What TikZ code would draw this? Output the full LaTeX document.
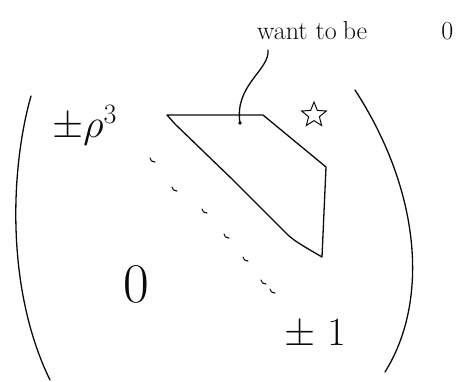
\RequirePackage{fix-cm}
\documentclass[tikz,border=0pt]{standalone}
\usepackage{amsmath,amssymb}
\usetikzlibrary{shapes.geometric, calc}
\definecolor{inkBlack}{RGB}{10, 10, 10}
\tikzset{
  ink/.style   = {draw=inkBlack, line width=1.3pt, line cap=round, line join=round},
  entry/.style = {inner sep=0pt, text=inkBlack, font=\fontsize{#1}{#1}\selectfont},
  note/.style  = {inner sep=0pt, text=inkBlack, font=\fontsize{26}{26}\selectfont},
  tick/.style  = {draw=inkBlack, line width=1.1pt, line cap=round},
}

\begin{document}
\begin{tikzpicture}[x=1pt, y=-1pt]
\useasboundingbox (0,0) rectangle (460,382);

% ---- Matrix brackets --------------------------------------------------------
\draw[ink] (31,96) .. controls (10,170) and (6,290) .. (50,380);
\draw[ink] (355,90) .. controls (420,190) and (430,300) .. (385,372);

% ---- Entries ----------------------------------------------------------------
\node[entry=40, anchor=base west] (top)  at (52,138) {$\pm\rho^3$};
\node[entry=56]                  (zero) at (136,284) {$0$};
\node[entry=40, anchor=base west] (bot) at (284,345) {$\pm\hspace{12pt}1$};

% ---- Diagonal dots ----------------------------------------------------------
\foreach \x/\y in {150/158, 172/187, 202/209, 224/234, 243/257, 261/280, 270/289}
  \draw[tick] (\x,\y) .. controls +(1,3) .. ++(5,4);

% ---- Region above the diagonal ----------------------------------------------
\draw[ink] (167,115) -- (263,115) -- (326,167) -- (322,257)
  .. controls (305,247) and (292,240) .. (285,232)
  -- (233,180) -- (175,124) -- cycle;

\node[star, star points=5, star point ratio=2.3, draw=inkBlack, line width=1pt,
      minimum size=26pt, inner sep=0pt] (starmark) at (314,115) {};

% ---- Annotation -------------------------------------------------------------
\node[note, anchor=base west] (want) at (257,40)
  {want\hspace{8pt}to\hspace{6pt}be\hspace{74pt}0};
\coordinate (wantfoot) at (268,50);
\coordinate (regionpt) at (240,123);
\draw[ink] (wantfoot) .. controls (270,70) and (234,85) .. (regionpt);
\fill[inkBlack] (regionpt) circle (1.8pt);

\end{tikzpicture}
\end{document}
